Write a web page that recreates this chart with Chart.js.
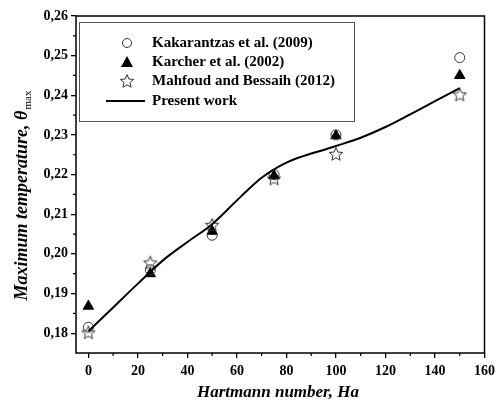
<!DOCTYPE html>
<html>
<head>
<meta charset="utf-8">
<script src="https://cdn.jsdelivr.net/npm/chart.js@4.4.1/dist/chart.umd.min.js"></script>
<style>
  html, body { margin: 0; padding: 0; background: #fff; }
  #wrap { width: 500px; height: 409px; }
</style>
</head>
<body>
<div id="wrap"><canvas id="grafico" width="500" height="409"></canvas></div>
<script>
// ── Datos ─────────────────────────────────────────────────────────────
var haPuntos   = [0, 25, 50, 75, 100, 150];
var kakarantzas = [0.1815, 0.1960, 0.2047, 0.2200, 0.2300, 0.2495];
var karcher     = [0.1868, 0.1950, 0.2057, 0.2197, 0.2298, 0.2450];
var mahfoud     = [0.1802, 0.1978, 0.2073, 0.2190, 0.2252, 0.2402];

var haLinea  = [0, 10, 20, 30, 40, 50, 60, 65, 70, 75, 80, 85, 90, 95, 100, 110, 120, 130, 140, 150];
var presente = [0.1805, 0.1865, 0.1925, 0.1983, 0.2030, 0.2075, 0.2135, 0.2165, 0.2192, 0.2213,
                0.2230, 0.2243, 0.2253, 0.2262, 0.2272, 0.2293, 0.2320, 0.2352, 0.2385, 0.2418];

var xTicks = [0, 20, 40, 60, 80, 100, 120, 140, 160];
var yTicks = [0.18, 0.19, 0.20, 0.21, 0.22, 0.23, 0.24, 0.25, 0.26];

var etiquetas = ['Kakarantzas et al. (2009)', 'Karcher et al. (2002)', 'Mahfoud and Bessaih (2012)', 'Present work'];

function pares(xs, ys) {
    return xs.map(function (x, i) { return { x: x, y: ys[i] }; });
}

// estrella hueca de 5 puntas
function pathEstrella(ctx, cx, cy, r) {
    ctx.beginPath();
    for (var i = 0; i < 10; i++) {
        var rr = (i % 2 === 0) ? r : r * 0.45;
        var a = -Math.PI / 2 + i * Math.PI / 5;
        var px = cx + rr * Math.cos(a), py = cy + rr * Math.sin(a);
        if (i === 0) ctx.moveTo(px, py); else ctx.lineTo(px, py);
    }
    ctx.closePath();
}
var imgEstrella = document.createElement('canvas');
imgEstrella.width = 16; imgEstrella.height = 16;
(function () {
    var c = imgEstrella.getContext('2d');
    pathEstrella(c, 8, 8.6, 7);
    c.fillStyle = '#fff';
    c.fill();
    c.strokeStyle = '#333';
    c.lineWidth = 1;
    c.stroke();
})();

var FUENTE = "'Liberation Serif','Times New Roman',serif";

// ── Plugin: marco, ticks menores, titulos y leyenda ──────────────────
var extras = {
    id: 'extras',
    afterDraw: function (chart) {
        var ctx = chart.ctx, a = chart.chartArea;
        var sx = chart.scales.x, sy = chart.scales.y;
        ctx.save();
        ctx.strokeStyle = '#000';
        ctx.lineWidth = 1.5;
        ctx.strokeRect(a.left, a.top, a.right - a.left, a.bottom - a.top);

        // ticks menores
        ctx.lineWidth = 1.2;
        ctx.beginPath();
        for (var v = 10; v < 160; v += 20) {
            var px = sx.getPixelForValue(v);
            ctx.moveTo(px, a.bottom); ctx.lineTo(px, a.bottom + 3);
        }
        for (var w = 0.185; w < 0.26; w += 0.01) {
            var py = sy.getPixelForValue(w);
            ctx.moveTo(a.left, py); ctx.lineTo(a.left - 3, py);
        }
        ctx.stroke();

        // titulo eje x
        ctx.fillStyle = '#000';
        ctx.font = 'italic bold 17px ' + FUENTE;
        ctx.textAlign = 'center';
        ctx.textBaseline = 'middle';
        ctx.fillText('Hartmann number, Ha', 278, 393);

        // titulo eje y (rotado, con subindice)
        ctx.translate(22, 196);
        ctx.rotate(-Math.PI / 2);
        var t1 = 'Maximum temperature, \u03b8';
        ctx.font = 'italic bold 18px ' + FUENTE;
        var w1 = ctx.measureText(t1).width;
        ctx.font = '11px ' + FUENTE;
        var w2 = ctx.measureText('max').width;
        var x0 = -(w1 + w2) / 2;
        ctx.textAlign = 'left';
        ctx.font = 'italic bold 18px ' + FUENTE;
        ctx.fillText(t1, x0, 0);
        ctx.font = '11px ' + FUENTE;
        ctx.fillText('max', x0 + w1 + 1, 6);
        ctx.restore();

        // leyenda
        ctx.save();
        ctx.strokeStyle = '#555';
        ctx.lineWidth = 1;
        ctx.strokeRect(79.5, 22.5, 275, 99);
        var filas = [43, 62, 81, 101];
        ctx.font = 'bold 15px ' + FUENTE;
        ctx.fillStyle = '#000';
        ctx.textAlign = 'left';
        ctx.textBaseline = 'middle';
        filas.forEach(function (fy, i) {
            ctx.fillText(etiquetas[i], 152, fy);
        });
        // marcadores
        ctx.beginPath();
        ctx.arc(127, 43, 4.5, 0, Math.PI * 2);
        ctx.strokeStyle = '#333';
        ctx.stroke();
        ctx.beginPath();
        ctx.moveTo(127, 56); ctx.lineTo(133, 67); ctx.lineTo(121, 67); ctx.closePath();
        ctx.fillStyle = '#000';
        ctx.fill();
        ctx.drawImage(imgEstrella, 119, 73);
        ctx.beginPath();
        ctx.moveTo(106, 101); ctx.lineTo(145, 101);
        ctx.lineWidth = 2;
        ctx.strokeStyle = '#000';
        ctx.stroke();
        ctx.restore();
    }
};

var ctx = document.getElementById('grafico');
new Chart(ctx, {
    type: 'scatter',
    data: {
        datasets: [
            {
                label: etiquetas[3],
                type: 'line',
                data: pares(haLinea, presente),
                borderColor: '#000',
                borderWidth: 2,
                pointRadius: 0,
                cubicInterpolationMode: 'monotone',
                fill: false
            },
            {
                label: etiquetas[0],
                data: pares(haPuntos, kakarantzas),
                pointStyle: 'circle',
                pointRadius: 5,
                borderColor: '#333',
                borderWidth: 1,
                backgroundColor: 'rgba(255,255,255,0)'
            },
            {
                label: etiquetas[1],
                data: pares(haPuntos, karcher),
                pointStyle: 'triangle',
                pointRadius: 6,
                borderColor: '#000',
                borderWidth: 1,
                backgroundColor: '#000'
            },
            {
                label: etiquetas[2],
                data: pares(haPuntos, mahfoud),
                pointStyle: imgEstrella
            }
        ]
    },
    options: {
        responsive: false,
        animation: false,
        layout: { padding: { left: 0, top: 16, right: 12, bottom: 0 } },
        plugins: { legend: { display: false }, tooltip: { enabled: false } },
        scales: {
            x: {
                type: 'linear',
                min: -5, max: 160,
                afterBuildTicks: function (s) { s.ticks = xTicks.map(function (v) { return { value: v }; }); },
                afterFit: function (s) { s.height = 56; },
                grid: { drawOnChartArea: false, color: '#000', lineWidth: 1.3, tickLength: 5, drawTicks: true },
                border: { display: false },
                ticks: {
                    color: '#000',
                    padding: 5,
                    maxRotation: 0,
                    font: { family: FUENTE, size: 14, weight: 'bold' },
                    callback: function (v) { return v; }
                }
            },
            y: {
                min: 0.175, max: 0.26,
                afterBuildTicks: function (s) { s.ticks = yTicks.map(function (v) { return { value: v }; }); },
                afterFit: function (s) { s.width = 76; },
                grid: { drawOnChartArea: false, color: '#000', lineWidth: 1.3, tickLength: 5 },
                border: { display: false },
                ticks: {
                    color: '#000',
                    padding: 3,
                    font: { family: FUENTE, size: 14, weight: 'bold' },
                    callback: function (v) { return v.toFixed(2).replace('.', ','); }
                }
            }
        }
    },
    plugins: [extras]
});
</script>
</body>
</html>
